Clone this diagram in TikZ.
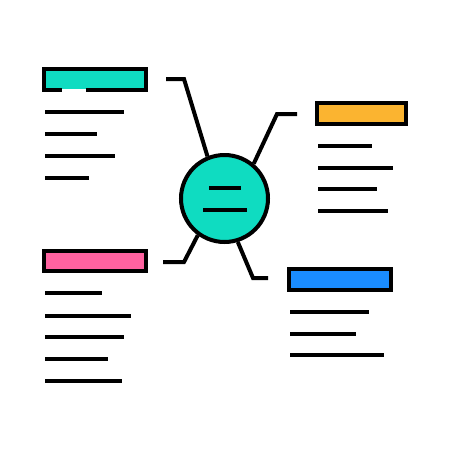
\documentclass[tikz,border=0pt]{standalone}
\usepackage{tikz}
\definecolor{mapteal}{HTML}{0FDCC1}
\definecolor{maporange}{HTML}{FBB430}
\definecolor{mappink}{HTML}{FF62A0}
\definecolor{mapblue}{HTML}{1A8CFF}
\tikzset{
    every picture/.style={line width=4pt},
    topic/.style={rectangle,draw=black,minimum width=102pt,minimum height=21pt,inner sep=0pt},
    hub/.style={circle,draw=black,fill=mapteal,minimum size=87pt,inner sep=0pt},
    textline/.style={black,line width=4pt}
}
\begin{document}
\begin{tikzpicture}[x=1pt,y=-1pt]
    \useasboundingbox (0,0) rectangle (450,450);

    % Centre
    \node[hub] (center) at (224.5,198.5) {};
    \draw[textline] (209,188) -- (241,188);
    \draw[textline] (203,210) -- (247,210);

    % Topics
    \node[topic,fill=mapteal] (tl) at (95,79.5) {};
    \fill[mapteal] (62,87) rectangle (86,89);
    \fill[white] (62,89) rectangle (86,92.5);
    \node[topic,fill=maporange,minimum width=89pt] (tr) at (361.5,113.5) {};
    \node[topic,fill=mappink,minimum height=20pt] (bl) at (95,261) {};
    \node[topic,fill=mapblue] (br) at (340,279.5) {};

    % Connectors
    \coordinate (tlbend) at (184,79);  \coordinate (tlend) at (166,79);
    \coordinate (trbend) at (277,114); \coordinate (trend) at (297,114);
    \coordinate (blbend) at (184,262); \coordinate (blend) at (163,262);
    \coordinate (brbend) at (253,278); \coordinate (brend) at (268,278);
    \draw (center.112) -- (tlbend) -- (tlend);
    \draw (center.50) -- (trbend) -- (trend);
    \draw (center.234) -- (blbend) -- (blend);
    \draw (center.287) -- (brbend) -- (brend);

    % Text lines
    \foreach \y/\x in {112/124,134/97,156/115,178/89}
        \draw[textline] (45,\y) -- (\x,\y);
    \foreach \y/\x in {146/372,168/393,189/377,211/388}
        \draw[textline] (318,\y) -- (\x,\y);
    \foreach \y/\x in {293/102,316/131,337/124,359/108,381/122}
        \draw[textline] (45,\y) -- (\x,\y);
    \foreach \y/\x in {312/369,334/356,355/384}
        \draw[textline] (290,\y) -- (\x,\y);
\end{tikzpicture}
\end{document}
